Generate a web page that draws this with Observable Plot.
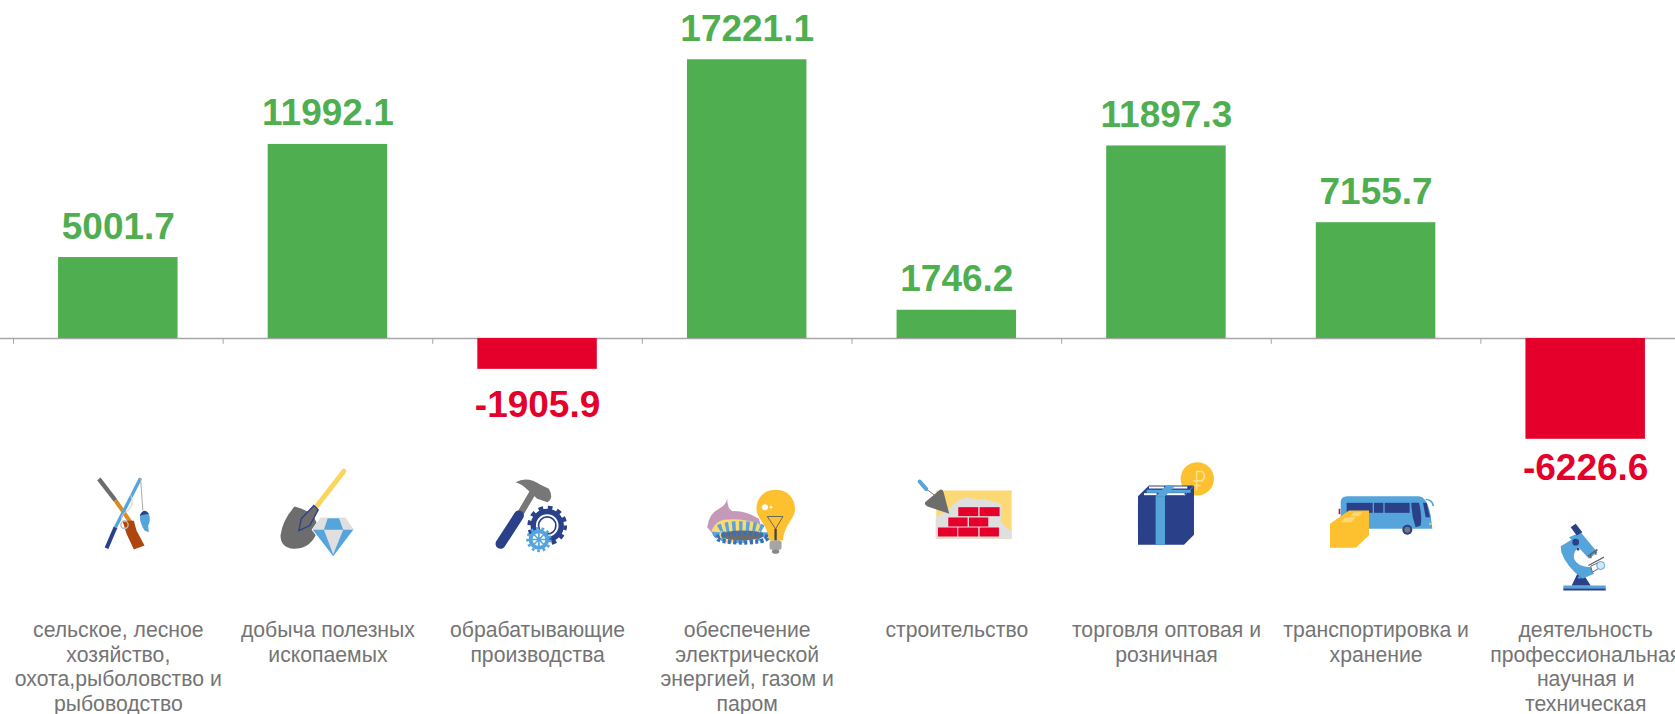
<!DOCTYPE html>
<html>
<head>
<meta charset="utf-8">
<script src="https://cdn.jsdelivr.net/npm/d3@7"></script>
<script src="https://cdn.jsdelivr.net/npm/@observablehq/plot@0.6"></script>
<style>
html,body{margin:0;padding:0;background:#fff;overflow:hidden;width:1675px;height:714px}
svg{max-width:none !important;display:block}
image{filter:blur(.45px)}
</style>
</head>
<body>
<div id="chart"></div>
<script>
const categories = [
  "сельское, лесное\nхозяйство,\nохота,рыболовство и\nрыбоводство",
  "добыча полезных\nископаемых",
  "обрабатывающие\nпроизводства",
  "обеспечение\nэлектрической\nэнергией, газом и\nпаром",
  "строительство",
  "торговля оптовая и\nрозничная",
  "транспортировка и\nхранение",
  "деятельность\nпрофессиональная\nнаучная и\nтехническая"
];
const values = [5001.7, 11992.1, -1905.9, 17221.1, 1746.2, 11897.3, 7155.7, -6226.6];

const GREEN = "#4fae50", RED = "#e4002b", GREY = "#747474", AXIS = "#a6a6a6";
const NAVY = "#2a4189", BLUE = "#55a4dc", GOLD = "#fdc02f", PALE = "#fcd975", DK = "#6d6d6d", LG = "#dfdfdf";

// Pictograms: artwork only, each drawn in its own small canvas and hung on the band centre.
const iconArt = [
  {ox: -37.8, oy: 25, art: `
    <path d="M55,40L105,105" stroke="${DK}" stroke-width="13" fill="none"/>
    <path d="M105,105L150,170" stroke="#d98a20" stroke-width="12" fill="none"/>
    <path d="M126,166L160,166L168,195L192,240L160,252L138,205Z" fill="#b0460f"/>
    <path d="M78,248L105,185" stroke="${NAVY}" stroke-width="12" fill="none"/>
    <path d="M105,185L180,38" stroke="${BLUE}" stroke-width="10" fill="none"/>
    <path d="M180,38L187,135" stroke="#aaa" stroke-width="3" fill="none"/>
    <path d="M150,85Q165,125 135,140Q118,150 125,165" stroke="#ccc" stroke-width="3" fill="none"/>
    <circle cx="132" cy="178" r="11" fill="none" stroke="#bbb" stroke-width="4"/>
    <path d="M178,150Q190,128 205,145Q212,165 203,180L205,200L192,195Q178,175 178,150Z" fill="${BLUE}"/>
    <path d="M178,150Q190,125 205,145Z" fill="${NAVY}"/>`},
  {ox: -57.4, oy: 20, art: `
    <path d="M220,32L140,135" stroke="#fad65f" stroke-width="15" fill="none" stroke-linecap="round"/>
    <path d="M72,138Q100,145 125,160L140,190L135,225Q115,265 70,265Q30,262 30,225Q35,180 72,138Z" fill="${DK}"/>
    <path d="M130,135L143,148L118,195L85,210L92,175Z" stroke="${NAVY}" stroke-width="4" fill="${DK}"/>
    <path d="M150,172L225,172L250,208L188,290L125,208Z" fill="${BLUE}" stroke="#fff" stroke-width="3"/>
    <path d="M150,172L172,172L160,208L125,208Z" fill="${LG}"/>
    <path d="M205,172L225,172L250,208L218,208Z" fill="${LG}"/>
    <path d="M160,208L218,208L188,282Z" fill="${LG}"/>`},
  {ox: -52, oy: 25, art: `
    <path d="M145,75L95,160" stroke="#777" stroke-width="20" fill="none"/>
    <path d="M100,150L45,235" stroke="${NAVY}" stroke-width="30" stroke-linecap="round" fill="none"/>
    <path d="M90,50Q125,30 165,58L190,70Q206,98 186,110L155,100L125,72Q110,56 90,50Z" fill="#777"/>
    <circle cx="185" cy="180" r="42" fill="none" stroke="${NAVY}" stroke-width="16"/>
    <circle cx="185" cy="180" r="54" fill="none" stroke="${NAVY}" stroke-width="11" stroke-dasharray="14 14.3"/>
    <circle cx="185" cy="180" r="26" fill="none" stroke="${NAVY}" stroke-width="5"/>
    <circle cx="160" cy="222" r="25" fill="#fff" stroke="${BLUE}" stroke-width="12"/>
    <circle cx="160" cy="222" r="34" fill="none" stroke="${BLUE}" stroke-width="8" stroke-dasharray="8 8.7"/>
    <path d="M160,200V244M138,222H182M145,207L175,237M175,207L145,237" stroke="${BLUE}" stroke-width="5"/>`},
  {ox: -51.6, oy: 40, art: `
    <path d="M35,140Q40,100 70,85Q90,75 95,55Q95,85 110,92Q150,90 190,115L200,150L60,170Z" fill="#c59ab8"/>
    <path d="M48,150Q60,122 85,118Q140,112 190,130L205,165L100,188Q58,178 48,150Z" fill="${PALE}"/>
    <ellipse cx="135" cy="155" rx="70" ry="18" fill="none" stroke="${BLUE}" stroke-width="30" stroke-dasharray="10 10"/>
    <ellipse cx="140" cy="165" rx="64" ry="15" fill="${DK}"/>
    <ellipse cx="140" cy="172" rx="76" ry="14" fill="none" stroke="#3a6fb5" stroke-width="13" stroke-dasharray="9 7"/>
    <path d="M240,28C285,28 300,65 298,90C296,115 265,135 262,180L220,180C218,135 185,115 183,90C180,60 200,28 240,28Z" fill="${GOLD}"/>
    <circle cx="208" cy="80" r="9" fill="#fff"/><circle cx="226" cy="80" r="4" fill="#fff"/>
    <path d="M215,108L262,108L240,145Z" fill="none" stroke="#666" stroke-width="3"/>
    <path d="M240,145V180" stroke="#444" stroke-width="7"/>
    <rect x="222" y="180" width="36" height="28" rx="8" fill="#a5a5a5"/>
    <ellipse cx="240" cy="213" rx="11" ry="7" fill="#888"/>`},
  {ox: -51.2, oy: 30, art: `
    <rect x="92" y="60" width="226" height="145" fill="${PALE}"/>
    <path d="M90,205L90,140Q130,120 150,95Q180,75 200,85Q260,85 290,105L285,150Q300,175 318,180L318,205Z" fill="${LG}"/>
    <g fill="${RED}">
      <rect x="158" y="110" width="60" height="27"/><rect x="222" y="110" width="60" height="27"/>
      <rect x="128" y="141" width="58" height="27"/><rect x="190" y="141" width="58" height="27"/>
      <rect x="97" y="171" width="58" height="27"/><rect x="158" y="171" width="60" height="27"/><rect x="222" y="171" width="58" height="27"/>
    </g>
    <path d="M103,58Q112,55 114,65L131,130L66,108Q52,100 62,92Z" fill="${DK}"/>
    <path d="M65,58L88,75" stroke="#777" stroke-width="3"/>
    <path d="M42,33L62,56" stroke="${BLUE}" stroke-width="12" stroke-linecap="round"/>`},
  {ox: -45.8, oy: 15, art: `
    <circle cx="230" cy="70" r="50" fill="${GOLD}"/>
    <path d="M228,105V48H245Q258,62 245,76H218M216,90H240" fill="none" stroke="#fbe08a" stroke-width="5"/>
    <path d="M52,122L85,90L220,90L220,238L190,268L52,268Z" fill="${NAVY}"/>
    <path d="M190,122L220,90" stroke="${BLUE}" stroke-width="2"/>
    <g fill="#fff"><rect x="85" y="93" width="45" height="6"/><rect x="150" y="93" width="50" height="6"/>
    <rect x="70" y="113" width="38" height="6"/><rect x="137" y="113" width="55" height="6"/></g>
    <rect x="105" y="122" width="28" height="146" fill="${BLUE}"/>
    <path d="M105,122L133,122L165,90L137,90Z" fill="${BLUE}"/>
    <rect x="78" y="103" width="132" height="9" fill="${BLUE}"/>`},
  {ox: -55.4, oy: 45, art: `
    <rect x="54" y="70" width="5" height="16" fill="${RED}"/>
    <path d="M60,50Q60,32 80,32L295,32Q320,35 330,90L335,130L60,130Z" fill="${BLUE}"/>
    <g fill="${NAVY}"><rect x="78" y="52" width="78" height="30"/><rect x="160" y="52" width="28" height="30"/><rect x="192" y="52" width="75" height="30"/>
    <path d="M272,52L295,52Q305,90 300,120L285,125Q272,90 272,52Z"/><path d="M307,52L318,52L328,95L315,95Z"/></g>
    <path d="M315,42Q335,42 338,62" stroke="${BLUE}" stroke-width="5" fill="none"/>
    <circle cx="260" cy="133" r="15" fill="${NAVY}"/><circle cx="260" cy="133" r="9" fill="#777"/>
    <rect x="325" y="112" width="9" height="6" fill="${GOLD}"/>
    <path d="M28,115L85,75L145,75L145,150L105,187L28,187Z" fill="${GOLD}"/>
    <path d="M60,110L75,95L105,95L92,110ZM88,92L100,80L125,80L115,92Z" fill="${PALE}"/>`},
  {ox: -45, oy: 75, art: `
    <rect x="68" y="210" width="127" height="10" fill="${BLUE}"/><rect x="68" y="219" width="127" height="6" fill="${NAVY}"/>
    <path d="M93,210L110,175L132,182L150,210Z" fill="${NAVY}"/><circle cx="116" cy="186" r="4" fill="${BLUE}"/>
    <path d="M85,65L120,50L170,110L145,130Z" fill="${BLUE}"/>
    <path d="M60,92L100,68L118,90Q95,110 100,130Q110,155 150,155L160,175L125,190Q75,150 62,110Z" fill="${BLUE}"/>
    <path d="M90,35L105,25L125,50L108,60Z" fill="${NAVY}"/>
    <circle cx="105" cy="80" r="10" fill="${NAVY}"/><circle cx="112" cy="101" r="4" fill="${NAVY}"/>
    <path d="M142,122L170,102M150,116V128M165,106V118" stroke="#666" stroke-width="5" fill="none"/>
    <path d="M143,150L190,125" stroke="#666" stroke-width="4"/>
    <path d="M150,152L172,142L176,158L155,170Z" fill="#fff" stroke="#666" stroke-width="3"/>
    <circle cx="180" cy="150" r="12" fill="#d5e6f4" stroke="${BLUE}" stroke-width="3"/>`}
];

const ICON_BOX = 160;
const iconSrc = iconArt.map(({ox, oy, art}) =>
  "data:image/svg+xml," + encodeURIComponent(
    `<svg xmlns="http://www.w3.org/2000/svg" viewBox="0 0 ${ICON_BOX} ${ICON_BOX}"><g transform="translate(${ICON_BOX / 2 + ox},${oy}) scale(${1 / 3})">${art}</g></svg>`
  ));

const rows = categories.map((c, i) => ({category: c, value: values[i], src: iconSrc[i]}));
const fmt = d => d.value.toFixed(1);
const hue = d => d.value < 0 ? RED : GREEN;
const LABEL_FONT = "'Liberation Sans', Arial, sans-serif";
const step = 209.625;

const chart = Plot.plot({
  width: 1700,
  height: 714,
  marginTop: 0, marginBottom: 0, marginLeft: 0, marginRight: 0,
  style: {background: "#fff", fontFamily: LABEL_FONT, overflow: "visible"},
  x: {type: "band", domain: categories, range: [13, 1690], paddingInner: 0.43, paddingOuter: 0.215, round: false, axis: null},
  y: {domain: [-23233, 20885], range: [714, 0], axis: null},
  color: {type: "identity"},
  marks: [
    Plot.ruleY([0], {stroke: AXIS, strokeWidth: 1.5}),
    Plot.ruleX(categories, {x: d => d, y1: 0, y2: -360, stroke: AXIS, strokeWidth: 1, dx: -step / 2}),
    Plot.barY(rows, {x: "category", y: "value", fill: hue}),
    Plot.text(rows.filter(d => d.value >= 0), {x: "category", y: "value", text: fmt, fill: hue, fontWeight: "bold", fontSize: 37, lineAnchor: "bottom", dy: -19}),
    Plot.text(rows.filter(d => d.value === -1905.9), {x: "category", y: "value", text: fmt, fill: hue, fontWeight: "bold", fontSize: 37, lineAnchor: "top", dy: 21}),
    Plot.text(rows.filter(d => d.value === -6226.6), {x: "category", y: "value", text: fmt, fill: hue, fontWeight: "bold", fontSize: 37, lineAnchor: "top", dy: 14}),
    Plot.image(rows, {x: "category", frameAnchor: "top", dy: 440 + ICON_BOX / 2, src: "src", width: ICON_BOX, height: ICON_BOX}),
    Plot.text(rows, {x: "category", frameAnchor: "top", dy: 619, text: "category", lineAnchor: "top", lineHeight: 24.6 / 21.2, fontSize: 21.2, fill: GREY})
  ]
});
document.getElementById("chart").append(chart);
</script>
</body>
</html>
